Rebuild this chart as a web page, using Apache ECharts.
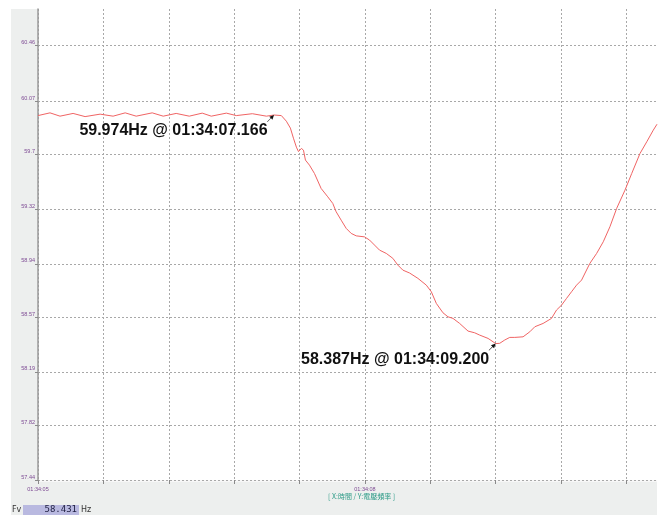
<!DOCTYPE html>
<html>
<head>
<meta charset="utf-8">
<style>
  html, body { margin: 0; padding: 0; background: #ffffff; }
  #chart { width: 665px; height: 515px; }
</style>
<script src="https://cdn.jsdelivr.net/npm/echarts@6/dist/echarts.min.js"></script>
</head>
<body>
<div id="chart"></div>
<script>
// Seconds elapsed since 01:34:05
const timeOffsets = [
  0.000, 0.110, 0.202, 0.322, 0.432, 0.570, 0.689, 0.800, 0.901, 1.048,
  1.149, 1.268, 1.388, 1.507, 1.590, 1.728, 1.820, 1.967, 2.096, 2.166,
  2.233, 2.279, 2.316, 2.344, 2.371, 2.390, 2.417, 2.436, 2.454, 2.491,
  2.537, 2.598, 2.659, 2.705, 2.736, 2.782, 2.828, 2.874, 2.920, 2.996,
  3.042, 3.088, 3.134, 3.196, 3.256, 3.302, 3.348, 3.410, 3.486, 3.563,
  3.609, 3.655, 3.716, 3.762, 3.808, 3.869, 3.946, 4.007, 4.053, 4.130,
  4.200, 4.237, 4.283, 4.329, 4.375, 4.451, 4.513, 4.559, 4.635, 4.712,
  4.758, 4.804, 4.850, 4.896, 4.942, 4.988, 5.064, 5.126, 5.187, 5.248,
  5.310, 5.386, 5.448, 5.524, 5.586, 5.646, 5.680
];
// Voltage frequency (Hz)
const freqValues = [
  59.970, 59.989, 59.966, 59.985, 59.963, 59.980, 59.966, 59.989, 59.966, 59.989,
  59.966, 59.985, 59.966, 59.987, 59.966, 59.987, 59.970, 59.983, 59.966, 59.974,
  59.970, 59.931, 59.883, 59.813, 59.751, 59.720, 59.742, 59.730, 59.661, 59.626,
  59.568, 59.464, 59.406, 59.360, 59.302, 59.244, 59.187, 59.152, 59.135, 59.128,
  59.106, 59.071, 59.036, 59.013, 58.979, 58.932, 58.897, 58.877, 58.840, 58.793,
  58.747, 58.666, 58.601, 58.573, 58.562, 58.527, 58.474, 58.462, 58.446, 58.423,
  58.387, 58.389, 58.412, 58.430, 58.430, 58.434, 58.469, 58.504, 58.527, 58.562,
  58.620, 58.654, 58.701, 58.747, 58.793, 58.828, 58.944, 59.013, 59.094, 59.198,
  59.326, 59.452, 59.568, 59.707, 59.788, 59.869, 59.910
];

// Marked readings
const markTimes = [2.166, 4.200];
const markFreqs = [59.974, 58.387];
const markClocks = ['01:34:07.166', '01:34:09.200'];

// Axis ticks
const yTickValues = [57.44, 57.82, 58.19, 58.57, 58.94, 59.32, 59.70, 60.07, 60.46];
const yTickLabels = ['57.44', '57.82', '58.19', '58.57', '58.94', '59.32', '59.7', '60.07', '60.46'];
const xGridSeconds = [0, 0.6, 1.2, 1.8, 2.4, 3.0, 3.6, 4.2, 4.8, 5.4];
const xLabelSeconds = [0, 3];
const xLabelTexts = ['01:34:05', '01:34:08'];

// Cursor readout
const cursorName = 'Fv';
const cursorValue = '58.431';
const cursorUnit = 'Hz';
const axisCaption = '[ X:時間 / Y:電壓頻率 ]';

const seriesData = timeOffsets.map((t, i) => [t, freqValues[i]]);
const markData = markTimes.map((t, i) => ({
  coord: [t, markFreqs[i]],
  value: markFreqs[i],
  clock: markClocks[i]
}));

const ARROW = 'path://M10 0 L3.6 2.2 L5.5 4 L0.6 8.9 L1.1 9.4 L6 4.5 L7.8 6.4 Z';
const TICK_FONT = "'Liberation Sans', Arial, sans-serif";
const LABEL_PURPLE = '#7d4a93';

const chart = echarts.init(document.getElementById('chart'), null, { renderer: 'canvas' });

chart.setOption({
  animation: false,
  backgroundColor: '#ffffff',
  grid: {
    left: 38, right: 8, top: 9, bottom: 35,
    show: true, backgroundColor: '#ffffff', borderWidth: 0,
    containLabel: false
  },
  graphic: [
    { type: 'rect', z: -10, shape: { x: 11, y: 9, width: 27, height: 506 }, style: { fill: '#edefee' }, silent: true },
    { type: 'rect', z: -10, shape: { x: 38, y: 480, width: 619, height: 35 }, style: { fill: '#edefee' }, silent: true },
    { type: 'rect', z: -9, shape: { x: 38, y: 480, width: 619, height: 2 }, style: { fill: '#f7f7f7' }, silent: true },
    {
      type: 'text', left: 328, top: 493,
      style: { text: axisCaption, fill: '#2f9c88', font: "7px 'Noto Sans CJK TC', sans-serif" }
    },
    {
      type: 'text', left: 12, top: 506,
      style: { text: cursorName, fill: '#333', font: "8px 'DejaVu Sans', sans-serif" }
    },
    { type: 'rect', shape: { x: 23, y: 505, width: 56, height: 10 }, style: { fill: '#b9b9e0' } },
    {
      type: 'text', right: 665 - 77, top: 505,
      style: { text: cursorValue, fill: '#1d1d40', font: "9px 'DejaVu Sans Mono', monospace", align: 'right' }
    },
    {
      type: 'text', left: 81, top: 506,
      style: { text: cursorUnit, fill: '#333', font: "8px 'DejaVu Sans', sans-serif" }
    }
  ],
  xAxis: {
    type: 'value',
    min: 0, max: 5.68,
    axisLine: { show: false },
    axisTick: {
      show: true, length: 4, customValues: xGridSeconds,
      lineStyle: { color: '#8a8a8a', width: 1 }
    },
    axisLabel: {
      customValues: xLabelSeconds,
      margin: 6,
      fontSize: 5.5, fontFamily: TICK_FONT, color: LABEL_PURPLE,
      formatter: (v) => {
        const i = xLabelSeconds.findIndex(s => Math.abs(s - v) < 1e-6);
        return i >= 0 ? xLabelTexts[i] : '';
      }
    },
    splitLine: {
      show: true,
      lineStyle: { color: '#a8a8a8', width: 1, type: [2, 2] }
    }
  },
  yAxis: {
    type: 'value',
    min: 57.44, max: 60.71,
    axisLine: { show: true, lineStyle: { color: '#9a9a9a', width: 1.5 } },
    axisTick: {
      show: true, length: 3, customValues: yTickValues,
      lineStyle: { color: '#8a8a8a', width: 1 }
    },
    axisLabel: {
      customValues: yTickValues,
      margin: 3,
      fontSize: 5.5, fontFamily: TICK_FONT, color: LABEL_PURPLE,
      verticalAlign: 'bottom', lineHeight: 6,
      formatter: (v) => {
        const i = yTickValues.findIndex(s => Math.abs(s - v) < 1e-6);
        return i >= 0 ? yTickLabels[i] : '';
      }
    },
    splitLine: {
      show: true,
      lineStyle: { color: '#a8a8a8', width: 1, type: [2, 2] }
    }
  },
  series: [{
    type: 'line',
    data: seriesData,
    showSymbol: false,
    smooth: false,
    lineStyle: { color: '#f06464', width: 1 },
    markPoint: {
      symbol: ARROW,
      symbolSize: [7, 7],
      symbolOffset: [-3.5, 3.5],
      itemStyle: { color: '#111111' },
      label: {
        show: true,
        position: [0.5, 16],
        align: 'right',
        verticalAlign: 'middle',
        color: '#111111',
        fontWeight: 'bold',
        fontSize: 16,
        fontFamily: "'Liberation Sans', Arial, sans-serif",
        formatter: (p) => p.data.value.toFixed(3) + 'Hz @ ' + p.data.clock
      },
      data: markData
    }
  }]
});
</script>
</body>
</html>
